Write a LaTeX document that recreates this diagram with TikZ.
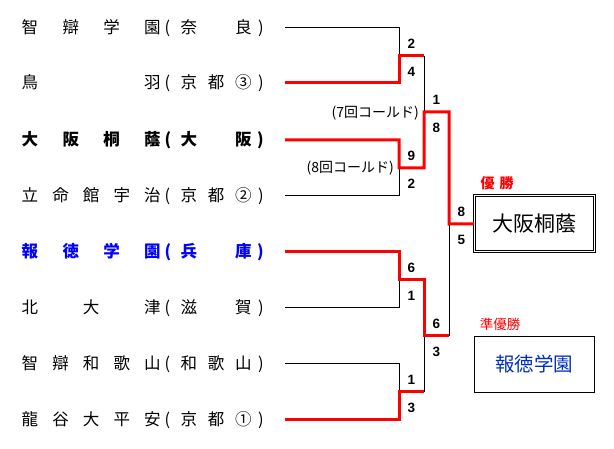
\documentclass[tikz,border=0pt]{standalone}
\usepackage{fontspec}
\setmainfont{Noto Sans CJK JP}
\newfontfamily\scorefont{Liberation Sans}
\usetikzlibrary{arrows.meta}
\newcommand{\teamline}[2]{\makebox[139pt][s]{#1}\hspace{4pt}\makebox[16pt][l]{(}\makebox[71pt][s]{#2}\makebox[12pt][r]{)}}
\definecolor{runnerblue}{RGB}{0,45,200}

\begin{document}
\begin{tikzpicture}[x=1pt,y=-1pt,>=Stealth,
  team/.style={anchor=west,inner sep=0pt,font=\fontsize{16.5}{17}\selectfont},
  teambold/.style={team,font=\fontsize{16.5}{17}\selectfont\bfseries},
  teamblue/.style={teambold,text=blue},
  lose/.style={draw=black,line width=1pt},
  win/.style={draw=red,line width=3pt},
  score/.style={inner sep=0pt,font=\scorefont\bfseries\fontsize{13.5}{14}\selectfont},
  cold/.style={anchor=east,inner sep=0pt,font=\fontsize{14}{15}\selectfont},
  title/.style={inner sep=0pt,text=red,font=\fontsize{13.5}{14}\selectfont}]
  \useasboundingbox (0,0) rectangle (614,449);
  \foreach \ty/\nm/\pf/\st [count=\i] in {
    28/{智\hfill 辯\hfill 学\hfill 園}/{奈\hfill 良}/team,
    83/{鳥\hfill 羽}/{京\hfill 都\hfill ③}/team,
    140/{大\hfill 阪\hfill 桐\hfill 蔭}/{大\hfill 阪}/teambold,
    196/{立\hfill 命\hfill 館\hfill 宇\hfill 治}/{京\hfill 都\hfill ②}/team,
    252/{報\hfill 徳\hfill 学\hfill 園}/{兵\hfill 庫}/teamblue,
    308/{北\hfill 大\hfill 津}/{滋\hfill 賀}/team,
    364/{智\hfill 辯\hfill 和\hfill 歌\hfill 山}/{和\hfill 歌\hfill 山}/team,
    420/{龍\hfill 谷\hfill 大\hfill 平\hfill 安}/{京\hfill 都\hfill ①}/team}{
    \node[\st] (t\i) at (21.5,\ty) {\teamline{\nm}{\pf}};
    \coordinate (e\i) at (285,\ty);
  }
  \coordinate (m1) at (399,56);
  \coordinate (m2) at (399,168);
  \coordinate (m3) at (399,280);
  \coordinate (m4) at (399,392);
  \coordinate (s1) at (424,112);
  \coordinate (s2) at (424,336);
  \coordinate (f) at (449,224);

  \node[draw,double,line width=0.8pt,double distance=1.2pt,minimum width=120pt,
    minimum height=56pt,inner sep=0pt,font=\fontsize{21}{23}\selectfont] (champ)
    at (534.5,223.8) {大阪桐蔭};
  \node[draw,line width=1.3pt,minimum width=120pt,minimum height=55.6pt,inner sep=0pt,
    text=runnerblue,font=\fontsize{19.5}{21}\selectfont] (runner) at (534.3,364.5) {報徳学園};
  \node[title,font=\fontsize{14}{15}\selectfont\bfseries] (wintitle) at (497,183) {優\hspace{5pt}勝};
  \node[title] (runtitle) at (500,324) {準優勝};

  \draw[lose] (e1) -| (m1);
  \draw[lose] (e4) -| (m2);
  \draw[lose] (e6) -| (m3);
  \draw[lose] (e7) -| (m4);
  \draw[lose] (m1 -| s1) -- (s1);
  \draw[lose] (m4 -| s2) -- (s2);
  \draw[lose] (s2 -| f) -- (f);
  \draw[win] (e2) -| (m1) -- (m1 -| s1);
  \draw[win] (e3) -| (m2) -- (m2 -| s1) -- (s1) -- (s1 -| f) -- (f) -- (champ.west);
  \draw[win] (e5) -| (m3) -- (m3 -| s2) -- (s2) -- (s2 -| f);
  \draw[win] (e8) -| (m4) -- (m4 -| s2);

  \foreach \j/\hi/\lo in {m1/2/4,s1/1/8,m2/9/2,f/8/5,m3/6/1,s2/6/3,m4/1/3}{
    \node[score] (\j hi) at ([shift={(12.5,-12.5)}]\j) {\hi};
    \node[score] (\j lo) at ([shift={(12.5,15.5)}]\j) {\lo};
  }
  \node[cold] (cold7) at ([shift={(-5,1)}]s1) {(7回コールド)};
  \node[cold] (cold8) at ([shift={(-5,0)}]m2) {(8回コールド)};
\end{tikzpicture}
\end{document}
